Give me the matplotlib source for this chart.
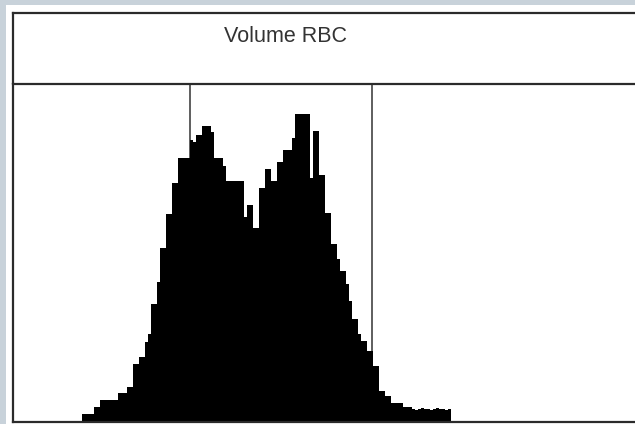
import numpy as np
import matplotlib
matplotlib.use("Agg")
import matplotlib.pyplot as plt
from matplotlib.patches import Rectangle

# RBC volume distribution, counts per channel (first channel = 23)
first_channel = 23
counts = [8, 8, 8, 8, 15, 15, 22, 22, 22, 22, 22, 22, 29, 29, 29, 35, 35,
          58, 58, 65, 65, 80, 88, 118, 118, 140, 174, 174, 208, 208, 239, 239,
          264, 264, 264, 264, 282, 280, 287, 287, 296, 296, 296, 290, 264, 264,
          264, 256, 241, 241, 241, 241, 241, 241, 205, 217, 217, 194, 194, 234,
          234, 253, 253, 241, 241, 260, 260, 272, 272, 272, 284, 308, 308, 308,
          308, 308, 244, 291, 291, 247, 247, 209, 209, 178, 178, 163, 151, 151,
          138, 121, 103, 103, 88, 81, 81, 71, 71, 56, 56, 31, 31, 26, 26, 19,
          19, 19, 19, 15, 15, 15, 13, 12, 13, 14, 13, 13, 12, 13, 14, 13, 13,
          12, 13]
gates = [59, 119.7]
n_channels = 622 / 3
y_max = 338
title = "Volume RBC"

W, H = 635, 424
fig = plt.figure(figsize=(W / 100, H / 100), dpi=100, facecolor="#c8d2da")

# white panel
fig.patches.append(Rectangle((6 / W, 0), 1, (H - 5) / H, transform=fig.transFigure,
                             facecolor="white", edgecolor="none", zorder=-5))

edge = "#2b2b2b"

# header box
hx = fig.add_axes([13 / W, (H - 83) / H, 622 / W, 70 / H], zorder=2)
hx.set_xlim(0, 1)
hx.set_ylim(0, 1)
hx.set_xticks([])
hx.set_yticks([])
hx.patch.set_alpha(0)
for s in ("right", "bottom"):
    hx.spines[s].set_visible(False)
for s in ("left", "top"):
    hx.spines[s].set_color(edge)
    hx.spines[s].set_linewidth(1.6)
hx.text(272 / 622, 41.5 / 70, title, ha="center", va="baseline",
        fontsize=15.5, family="Liberation Sans", color="#333333")

# histogram
ax = fig.add_axes([13 / W, 2 / H, 622 / W, 338 / H], zorder=2)
edges = np.arange(first_channel, first_channel + len(counts) + 1)
ax.stairs(counts, edges, fill=True, color="black", zorder=2)
for g in gates:
    ax.axvline(g, color="#333333", linewidth=1.1, zorder=1)
ax.set_xlim(0, n_channels)
ax.set_ylim(0, y_max)
ax.set_xticks([])
ax.set_yticks([])
ax.patch.set_alpha(0)
ax.spines["right"].set_visible(False)
for s in ("left", "top", "bottom"):
    ax.spines[s].set_color(edge)
    ax.spines[s].set_linewidth(1.6)

fig.savefig("out.png", dpi=100, facecolor=fig.get_facecolor())
